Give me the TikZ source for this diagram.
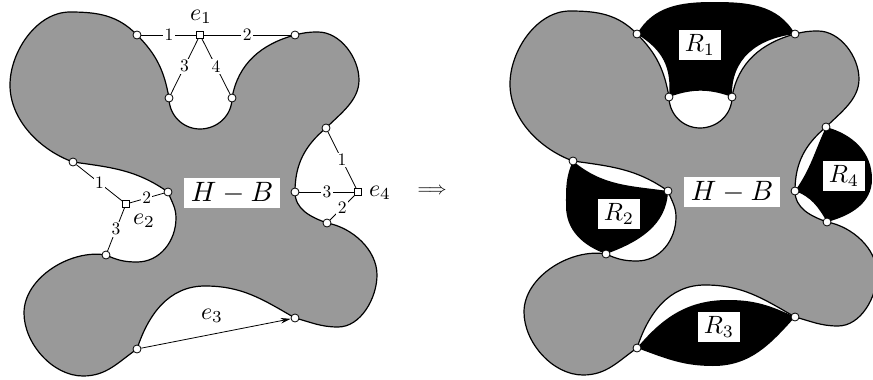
\documentclass[tikz,border=0pt]{standalone}
\usetikzlibrary{arrows.meta}
\newcommand\defpts[1]{%
  \coordinate (#1A) at (137,-35);
  \coordinate (#1B) at (169,-98);
  \coordinate (#1C) at (232,-98);
  \coordinate (#1D) at (295,-35);
  \coordinate (#1E) at (326,-128);
  \coordinate (#1F) at (295,-192);
  \coordinate (#1G) at (327,-223);
  \coordinate (#1H) at (295,-318);
  \coordinate (#1I) at (137,-349);
  \coordinate (#1J) at (106,-255);
  \coordinate (#1K) at (168,-192);
  \coordinate (#1L) at (73,-162);}
\newcommand\hbpath[1]{(#1A) to[out=134,in=0] (70,-12) to[out=180,in=90,looseness=0.9] (10,-85) to[out=270,in=160,looseness=0.9] (#1L)
 to[out=-8,in=145] (#1K)
 to[out=-70,in=90] (176,-218) to[out=270,in=0] (137,-262) to[out=180,in=-25] (#1J)
 to[out=170,in=90,looseness=0.9] (24,-313) to[out=270,in=180,looseness=0.9] (83,-376) to[out=0,in=215] (#1I)
 to[out=72,in=180] (205,-286) to[out=0,in=150] (#1H)
 to[out=-15,in=180] (338,-327) to[out=0,in=270,looseness=0.9] (377,-275) to[out=90,in=-10,looseness=0.9] (#1G)
 to[out=160,in=270] (#1F)
 to[out=90,in=220] (#1E)
 to[out=45,in=270,looseness=0.9] (359,-80) to[out=90,in=0,looseness=0.9] (318,-32) to[out=180,in=15] (#1D)
 to[out=195,in=80] (#1C)
 to[out=270,in=0] (200,-129) to[out=180,in=270] (#1B)
 to[out=100,in=-45] (#1A) -- cycle}
\newcommand\vertices[1]{%
  \foreach \p in {A,B,C,D,E,F,G,H,I,J,K,L} {\node[vtx] (#1v\p) at (#1\p) {};}}
\begin{document}
\begin{tikzpicture}[x=1pt,y=1pt,
  vtx/.style={circle,draw,fill=white,line width=0.8pt,minimum size=8pt,inner sep=0pt},
  sq/.style={rectangle,draw,fill=white,line width=0.8pt,minimum size=6.5pt,inner sep=0pt},
  elab/.style={fill=white,inner sep=0.8pt,scale=1.75},
  enlab/.style={inner sep=0pt,scale=2.4},
  edgeline/.style={line width=0.8pt},
  outline/.style={line width=1.2pt},
  shade/.style={fill=black!40},
  hblab/.style={fill=white,inner sep=0pt,minimum width=34.3pt,minimum height=10.7pt,scale=2.8},
  rlab/.style={fill=white,inner sep=0pt,minimum width=16.8pt,minimum height=12pt,scale=2.5},
]
\useasboundingbox (0,0) rectangle (873,-380);
% ---------- left diagram ----------
\defpts{l}
\draw[outline,shade] \hbpath{l};
\node[hblab] (lhb) at (232,-193) {$H-B$};
\vertices{l}
\node[sq] (e1) at (200,-35) {};
\node[sq] (e2) at (126,-204) {};
\node[sq] (e4) at (358,-192) {};
\node[enlab] (e1lab) at (201,-17) {$e_1$};
\node[enlab] (e2lab) at (144,-221) {$e_2$};
\node[enlab] (e4lab) at (380,-193) {$e_4$};
\draw[edgeline] (e1) -- node[elab] (t11) {1} (lvA);
\draw[edgeline] (e1) -- node[elab] (t12) {2} (lvD);
\draw[edgeline] (e1) -- node[elab] (t13) {3} (lvB);
\draw[edgeline] (e1) -- node[elab] (t14) {4} (lvC);
\draw[edgeline] (e2) -- node[elab] (t21) {1} (lvL);
\draw[edgeline] (e2) -- node[elab] (t22) {2} (lvK);
\draw[edgeline] (e2) -- node[elab] (t23) {3} (lvJ);
\draw[edgeline] (e4) -- node[elab] (t41) {1} (lvE);
\draw[edgeline] (e4) -- node[elab] (t43) {3} (lvF);
\draw[edgeline] (e4) -- node[elab] (t42) {2} (lvG);
\draw[edgeline,-{Stealth[length=10pt,width=5.5pt]}] (lvI) -- (lvH);
\node[enlab] (e3lab) at (212,-316) {$e_3$};
% ---------- arrow ----------
\node[scale=1.8] (impl) at (432,-191) {$\Longrightarrow$};
% ---------- right diagram ----------
\begin{scope}[xshift=500pt,yshift=1pt]
\defpts{r}
\fill[black] (rA) to[out=60,in=180] (213,-3) to[out=0,in=120] (rD)
  to[out=187,in=92,looseness=1.1] (rC) to[out=160,in=20] (rB)
  to[out=85,in=-32,looseness=1.1] (rA) -- cycle;
\fill[black] (rL) to[out=-40,in=172] (rK) to[out=-92,in=20] (rJ)
  to[out=160,in=270] (66,-207) to[out=90,in=245] (rL) -- cycle;
\fill[black] (rI) to[out=50,in=180] (228,-301) to[out=0,in=155] (rH)
  to[out=228,in=0] (213,-367) to[out=180,in=-20] (rI) -- cycle;
\fill[black] (rE) to[out=-15,in=90] (372,-180) to[out=270,in=15] (rG)
  to[out=120,in=-20] (rF) to[out=55,in=245] (rE) -- cycle;
\draw[outline,shade] \hbpath{r};
\node[hblab] (rhb) at (232,-193) {$H-B$};
\node[rlab] (R1) at (200,-46) {$R_1$};
\node[rlab] (R2) at (119,-215) {$R_2$};
\node[rlab] (R3) at (219,-328) {$R_3$};
\node[rlab] (R4) at (344,-177) {$R_4$};
\vertices{r}
\end{scope}
\end{tikzpicture}
\end{document}
